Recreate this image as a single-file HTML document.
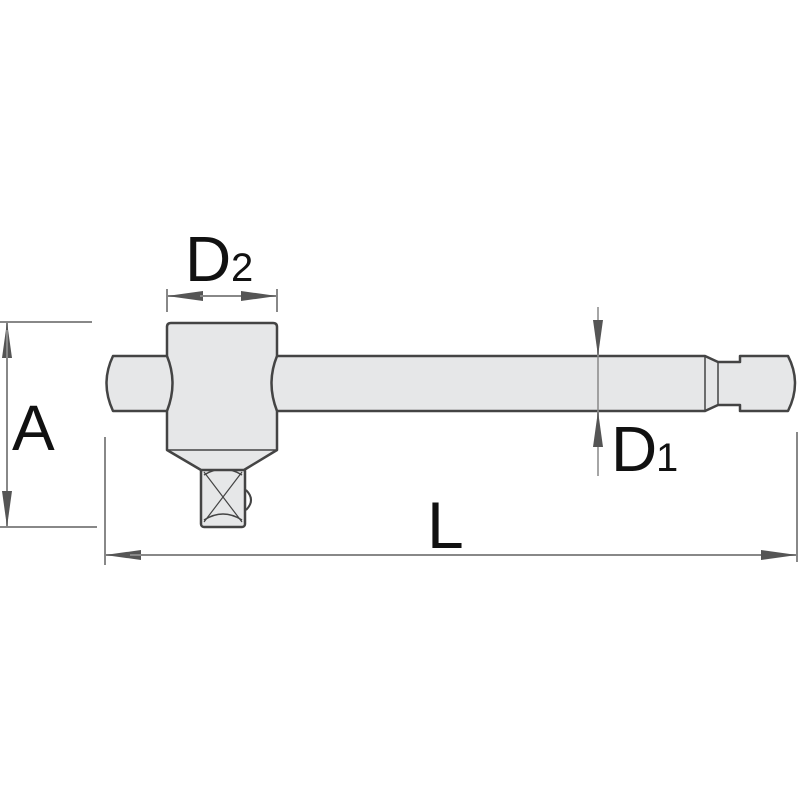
<!DOCTYPE html>
<html><head><meta charset="utf-8"><style>html,body{margin:0;padding:0;background:#fff}svg{display:block}</style></head>
<body>
<svg width="800" height="800" viewBox="0 0 800 800" xmlns="http://www.w3.org/2000/svg">
<defs>
<marker id="ar" viewBox="0 0 36 12" refX="36" refY="6" markerWidth="36" markerHeight="12" markerUnits="userSpaceOnUse" orient="auto">
<path d="M0,1 L36,6 L0,11 Z" fill="#555"/>
</marker>
</defs>
<g fill="#e6e7e8" stroke="#444" stroke-width="2.5" stroke-linejoin="round">
<!-- left stub -->
<path d="M113,356 L172,356 Q182,383 172,411 L113,411 Q100,383 113,356 Z"/>
<!-- main bar -->
<path d="M272,356 L705,356 L718,362 L740,362 L740,356 L788,356 Q802,383 788,411 L740,411 L740,405 L718,405 L705,411 L272,411 Q262,383 272,356 Z"/>
<line x1="705" y1="356" x2="705" y2="411" stroke-width="1.5"/>
<line x1="718" y1="362" x2="718" y2="405" stroke-width="1.5"/>
<!-- square drive -->
<rect x="201" y="468" width="44" height="59" rx="3"/>
<path d="M246,490 Q256,500 246,510" fill="none" stroke-width="2"/>
<path d="M204,472 L242,522 M242,472 L204,522" stroke-width="1.2" fill="none"/>
<path d="M204,520 Q223,508 242,520" fill="none" stroke-width="1.5"/>
<path d="M204,475 Q223,463 242,475" fill="none" stroke-width="1.5"/>
<!-- block -->
<path d="M171,323 L273,323 Q277,323 277,327 L277,356 Q266,383 277,411 L277,450 L244,470 L201,470 L167,450 L167,411 Q178,383 167,356 L167,327 Q167,323 171,323 Z"/>
<line x1="168" y1="450" x2="276" y2="450" stroke-width="1.5"/>
</g>
<g stroke="#888" stroke-width="2" fill="none">
<!-- A -->
<line x1="0" y1="322" x2="92" y2="322"/>
<line x1="0" y1="527" x2="97" y2="527"/>
<line x1="7" y1="330" x2="7" y2="322" marker-end="url(#ar)"/>
<line x1="7" y1="330" x2="7" y2="520"/>
<line x1="7" y1="500" x2="7" y2="527" marker-end="url(#ar)"/>
<!-- L -->
<line x1="105" y1="437" x2="105" y2="565"/>
<line x1="797" y1="432" x2="797" y2="562"/>
<line x1="140" y1="555" x2="105" y2="555" marker-end="url(#ar)"/>
<line x1="130" y1="555" x2="770" y2="555"/>
<line x1="760" y1="555" x2="797" y2="555" marker-end="url(#ar)"/>
<!-- D2 -->
<line x1="167" y1="289" x2="167" y2="312"/>
<line x1="277" y1="289" x2="277" y2="312"/>
<line x1="202" y1="296" x2="167" y2="296" marker-end="url(#ar)"/>
<line x1="200" y1="296" x2="244" y2="296"/>
<line x1="242" y1="296" x2="277" y2="296" marker-end="url(#ar)"/>
<!-- D1 -->
<line x1="598" y1="307" x2="598" y2="356" stroke-width="1.5"/>
<line x1="598" y1="320" x2="598" y2="356" marker-end="url(#ar)"/>
<line x1="598" y1="356" x2="598" y2="411" stroke-width="1.5"/>
<line x1="598" y1="476" x2="598" y2="411" stroke-width="1.5"/>
<line x1="598" y1="447" x2="598" y2="411" marker-end="url(#ar)"/>
</g>
<g font-family="Liberation Sans, sans-serif" fill="#111">
<text x="12" y="450" font-size="64">A</text>
<text x="427" y="548" font-size="66">L</text>
<text x="185" y="281" font-size="64">D</text>
<text x="231" y="281" font-size="40">2</text>
<text x="611" y="471" font-size="64">D</text>
<text x="656" y="471" font-size="40">1</text>
</g>
</svg>
</body></html>
